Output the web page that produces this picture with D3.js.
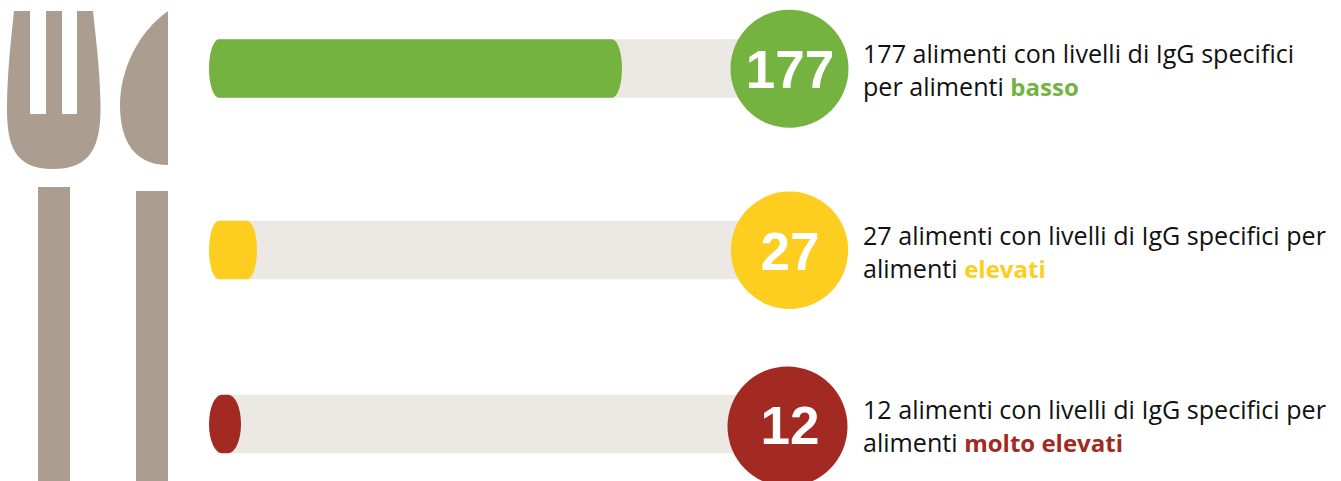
<!DOCTYPE html>
<html>
<head>
<meta charset="utf-8">
<style>
  html, body { margin: 0; padding: 0; background: #fff; }
  svg { display: block; }
  text { font-family: "Open Sans", sans-serif; }
</style>
<script src="https://cdn.jsdelivr.net/npm/d3@7"></script>
</head>
<body>
<svg width="1341" height="481"></svg>
<script>
var categories = ["basso", "elevati", "molto elevati"];
var values = [177, 27, 12];
var firstLines = [
    "177 alimenti con livelli di IgG specifici",
    "27 alimenti con livelli di IgG specifici per",
    "12 alimenti con livelli di IgG specifici per"
];
var secondLines = ["per alimenti ", "alimenti ", "alimenti "];
var colors = ["#74b33f", "#fdcd20", "#a32a22"];

function main() {
    var svg = d3.select("svg");

    var barLeft = 209, barHeight = 58.5;

    // the bars in the original are not proportional, so the scale has a knee at each value
    var xScale = d3.scaleLinear().domain([12, 27, 177]).range([241, 257, 622]);
    var yScale = d3.scaleOrdinal().domain(categories).range([68.5, 250, 424]);
    var colorScale = d3.scaleOrdinal().domain(categories).range(colors);

    // the circles do not sit quite the same on each row
    var circleX = d3.scaleOrdinal().domain(categories).range([789.5, 789.5, 787.5]);
    var circleY = d3.scaleOrdinal().domain(categories).range([68.7, 250.3, 426.5]);
    var circleR = d3.scaleOrdinal().domain(categories).range([59, 58.7, 60]);

    var rows = categories.map(function(c, i) {
        return { category: c, value: values[i], line1: firstLines[i], line2: secondLines[i] };
    });

    // fork and knife
    var icon = svg.append("g").attr("fill", "#ab9e90");
    icon.append("path").attr("d",
        "M14,11 L30,11 L30,114 L46,114 L46,11 L62,11 L62,114 L77,114 L77,11 L93,11 " +
        "C96,40 100,70 100.5,105 C101,145 92,169 53,169 C14,169 6.5,145 7,105 C7.5,70 11,40 14,11 Z");
    icon.append("rect").attr("x", 38).attr("y", 187).attr("width", 32).attr("height", 294);
    icon.append("path").attr("d",
        "M168,11 C138,32 120,70 120,105 C120,142 135,165 168,165 Z");
    icon.append("rect").attr("x", 136).attr("y", 191).attr("width", 32).attr("height", 290);

    var row = svg.selectAll(".row").data(rows).enter().append("g").attr("class", "row");

    // track behind the bar
    row.append("rect")
        .attr("x", barLeft + 8)
        .attr("y", function(d) { return yScale(d.category) - barHeight / 2; })
        .attr("width", 780 - barLeft - 8)
        .attr("height", barHeight)
        .attr("fill", "#ece8e3");

    row.append("rect")
        .attr("x", barLeft)
        .attr("y", function(d) { return yScale(d.category) - barHeight / 2; })
        .attr("width", function(d) { return xScale(d.value) - barLeft; })
        .attr("height", barHeight)
        .attr("rx", function(d) { return d.value < 20 ? 13 : 10; })
        .attr("ry", barHeight / 2)
        .attr("fill", function(d) { return colorScale(d.category); });

    row.append("circle")
        .attr("cx", function(d) { return circleX(d.category); })
        .attr("cy", function(d) { return circleY(d.category); })
        .attr("r", function(d) { return circleR(d.category); })
        .attr("fill", function(d) { return colorScale(d.category); });

    row.append("text")
        .attr("x", 790)
        .attr("y", function(d) { return yScale(d.category) + 19.5; })
        .attr("text-anchor", "middle")
        .attr("fill", "#fff")
        .style("font-family", "'Liberation Sans', sans-serif")
        .style("font-weight", "bold")
        .style("font-size", "53px")
        .text(function(d) { return d.value; });

    row.append("text")
        .attr("x", 863)
        .attr("y", function(d) { return yScale(d.category) - 5.2; })
        .attr("fill", "#111")
        .style("font-size", "25.1px")
        .text(function(d) { return d.line1; });

    var second = row.append("text")
        .attr("x", 863)
        .attr("y", function(d) { return yScale(d.category) + 27.5; })
        .attr("fill", "#111")
        .style("font-size", "25.1px")
        .style("white-space", "pre");
    second.append("tspan").text(function(d) { return d.line2; });
    second.append("tspan")
        .attr("fill", function(d) { return colorScale(d.category); })
        .style("font-weight", "bold")
        .style("font-size", "24px")
        .text(function(d) { return d.category; });
}

main();
</script>
</body>
</html>
